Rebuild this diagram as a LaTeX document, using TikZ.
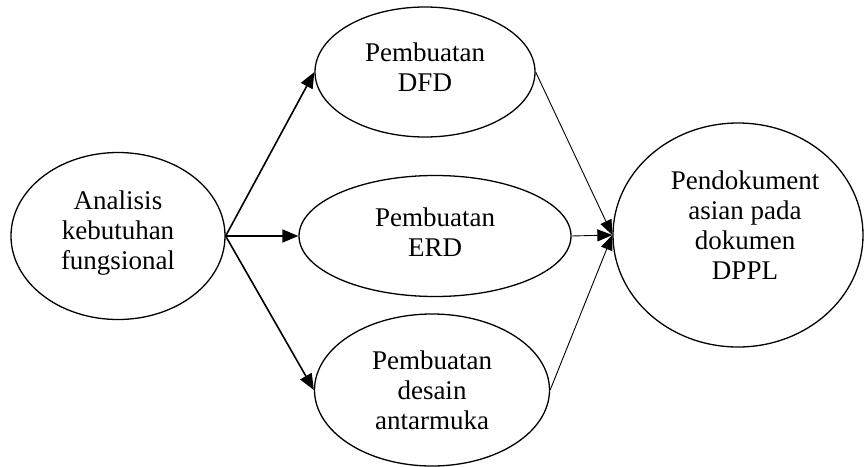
\documentclass[tikz,border=0pt]{standalone}
\usepackage{fontspec}
\setmainfont{Liberation Serif}
\usetikzlibrary{shapes.geometric,arrows.meta}
\begin{document}
\begin{tikzpicture}[x=1pt,y=-1pt,
  oval/.style={draw,ellipse,line width=1.3pt,inner sep=0pt},
  txt/.style={align=center,inner sep=0pt,font=\fontsize{27}{30}\selectfont},
  strong/.style={line width=1.6pt,-{Triangle[length=16pt,width=13pt]}},
  weak/.style={line width=0.9pt,-{Triangle[length=15pt,width=12pt]}}]
\useasboundingbox (0,0) rectangle (864,466);
% outlines
\node[oval,minimum width=214pt,minimum height=167pt] (ana) at (118,236) {};
\node[oval,minimum width=220pt,minimum height=130pt] (dfd) at (425,72) {};
\node[oval,minimum width=272pt,minimum height=121pt] (erd) at (435,236) {};
\node[oval,minimum width=235pt,minimum height=152pt] (des) at (432,390) {};
\node[oval,minimum width=250pt,minimum height=224pt] (doc) at (738,235) {};
% labels
\node[txt] (anaT) at ([yshift=3pt]ana.center) {Analisis\\kebutuhan\\fungsional};
\node[txt] (dfdT) at ([yshift=5pt]dfd.center) {Pembuatan\\DFD};
\node[txt] (erdT) at ([yshift=4pt]erd.center) {Pembuatan\\ERD};
\node[txt] (desT) at (des.center) {Pembuatan\\desain\\antarmuka};
\node[txt] (docT) at ([xshift=7pt,yshift=10pt]doc.center) {Pendokument\\asian pada\\dokumen\\DPPL};
% connectors
\draw[strong] (ana.east) -- (dfd.west);
\draw[strong] (ana.east) -- (erd.west);
\draw[strong] (ana.east) -- (des.west);
\draw[weak] (dfd.east) -- (doc.west);
\draw[weak] (erd.east) -- (doc.west);
\draw[weak] (des.east) -- (doc.west);
\end{tikzpicture}
\end{document}
